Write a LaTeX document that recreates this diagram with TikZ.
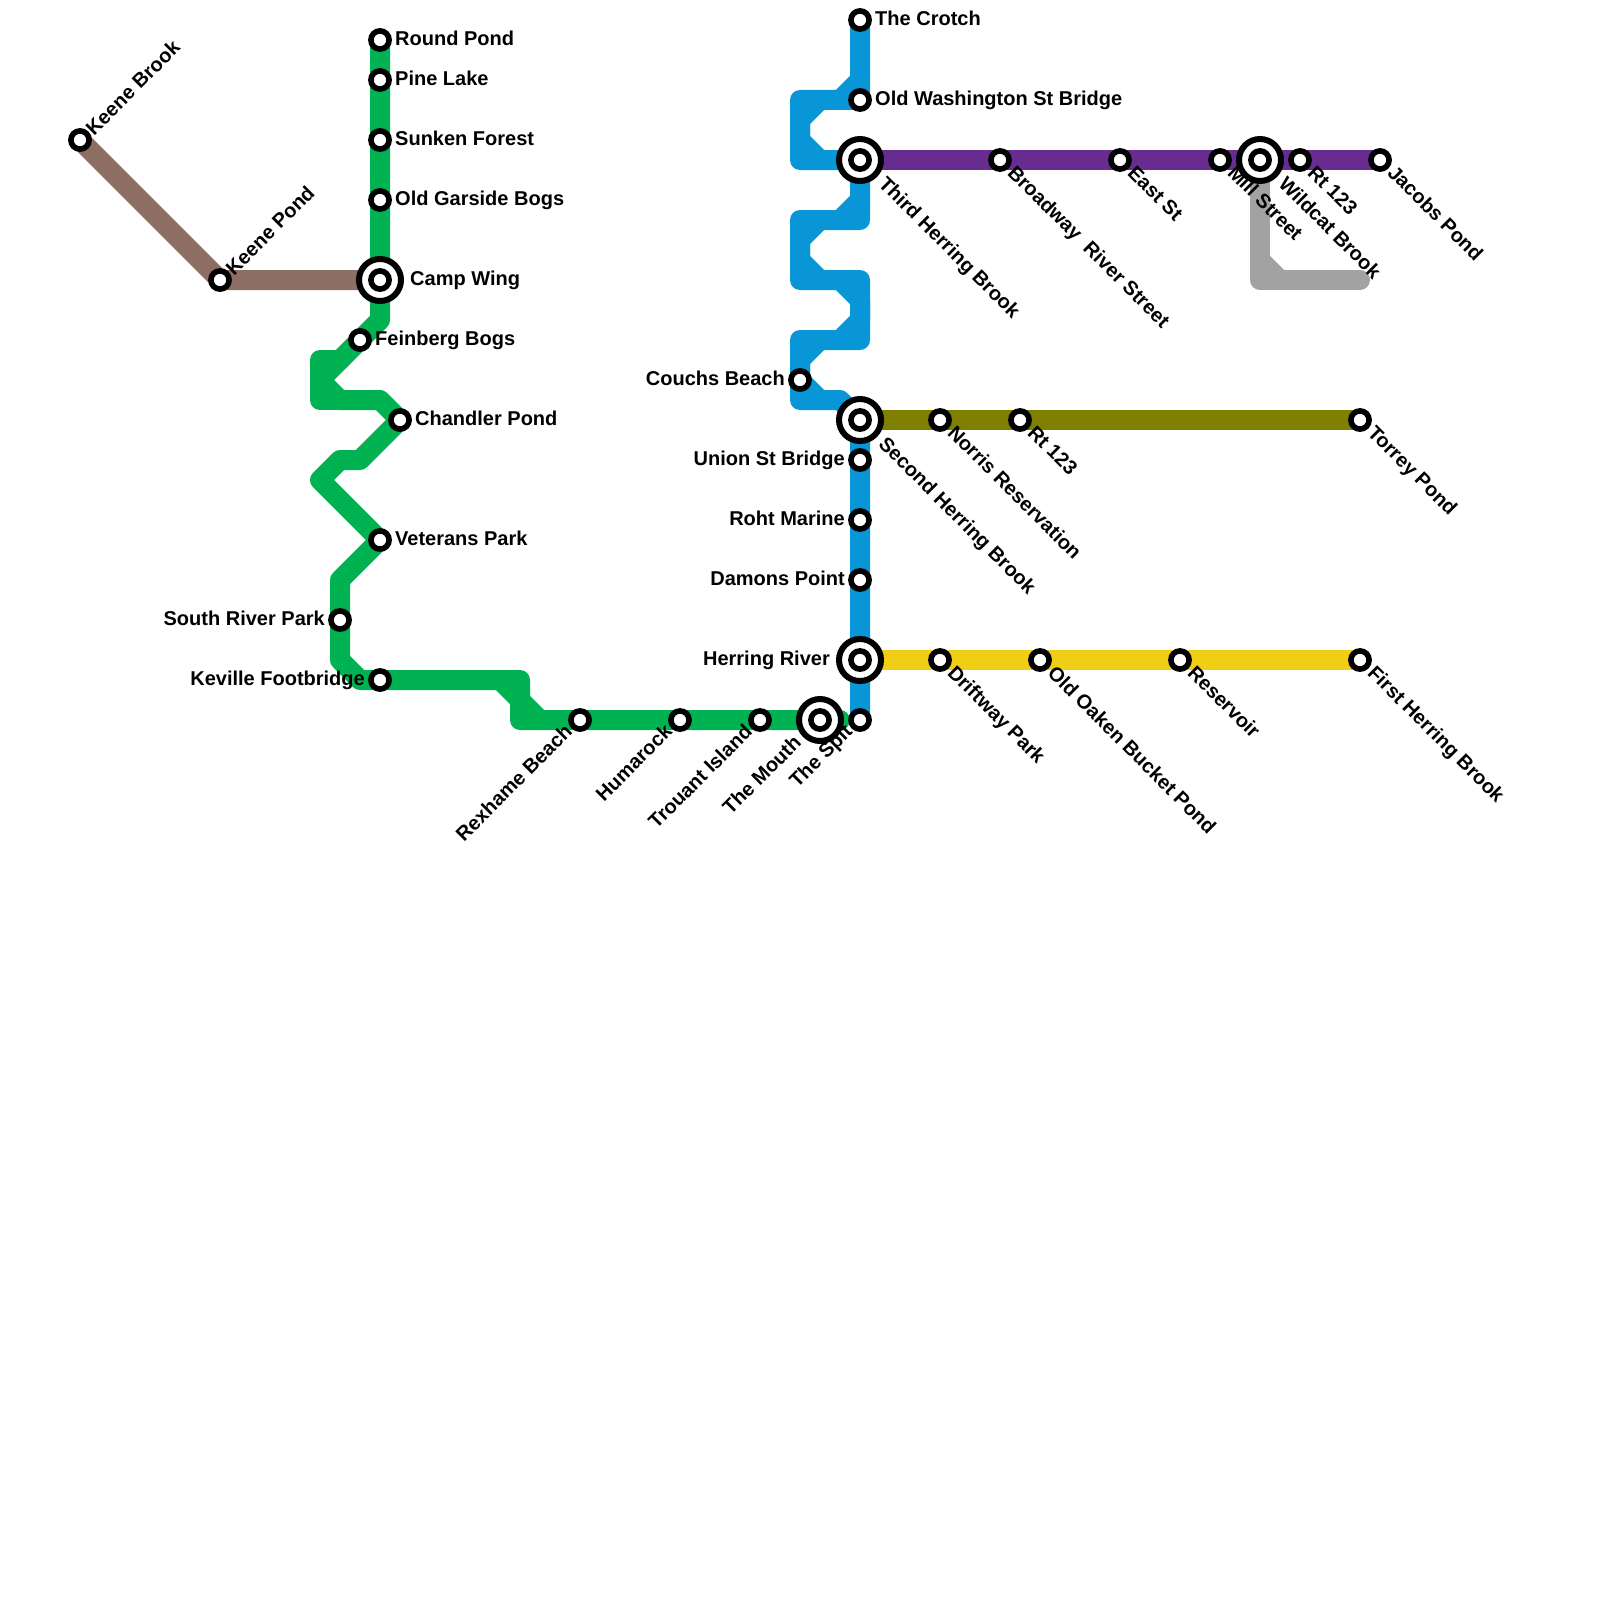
\documentclass[tikz,border=0pt]{standalone}
\usepackage{fontspec}
\setmainfont{Liberation Sans}
\usetikzlibrary{backgrounds}
\definecolor{cblue}{HTML}{0896D7}
\definecolor{cgreen}{HTML}{00B251}
\definecolor{cbrown}{HTML}{8D6E63}
\definecolor{cpurple}{HTML}{662C90}
\definecolor{colive}{HTML}{808000}
\definecolor{cyellow}{HTML}{F0CE15}
\definecolor{cgray}{HTML}{A2A2A2}
\tikzset{
 x=1pt,y=-1pt,
 route/.style={line width=20pt,line cap=round,line join=round},
 stn/.style={circle,draw=black,fill=white,line width=5.6pt,minimum size=18.2pt,inner sep=0pt,outer sep=0pt},
 hub/.style={circle,draw=black,fill=white,line width=6pt,minimum size=42pt,inner sep=0pt,outer sep=0pt},
 lab/.style={font=\bfseries\fontsize{20}{20}\selectfont,inner sep=0pt,text height=14pt,text depth=0pt,text=black},
 lr/.style={lab,anchor=west},
 ll/.style={lab,anchor=east},
 ldr/.style={lab,anchor=west,rotate=-45},
 lur/.style={lab,anchor=west,rotate=45},
 ldl/.style={lab,anchor=east,rotate=45},
}
\newcommand{\St}[3]{\node[stn] (#1) at (#2,#3) {};}
\newcommand{\Hub}[3]{\node[hub] (#1o) at (#2,#3) {};\node[stn] (#1) at (#2,#3) {};}
\begin{document}
\begin{tikzpicture}
\useasboundingbox (0,0) rectangle (1600,1600);
% stations
\St{keenebrook}{80}{140}
\St{keenepond}{220}{280}
\St{roundpond}{380}{40}
\St{pinelake}{380}{80}
\St{sunken}{380}{140}
\St{garside}{380}{200}
\Hub{campwing}{380}{280}
\St{feinberg}{360}{340}
\St{chandler}{400}{420}
\St{veterans}{380}{540}
\St{southriver}{340}{620}
\St{keville}{380}{680}
\St{rexhame}{580}{720}
\St{humarock}{680}{720}
\St{trouant}{760}{720}
\Hub{mouth}{820}{720}
\St{spit}{860}{720}
\St{crotch}{860}{20}
\St{oldwash}{860}{100}
\Hub{third}{860}{160}
\St{couchs}{800}{380}
\Hub{second}{860}{420}
\St{union}{860}{460}
\St{roht}{860}{520}
\St{damons}{860}{580}
\Hub{herring}{860}{660}
\St{broadway}{1000}{160}
\St{eastst}{1120}{160}
\St{mill}{1220}{160}
\Hub{wildcat}{1260}{160}
\St{rtpurple}{1300}{160}
\St{jacobs}{1380}{160}
\St{norris}{940}{420}
\St{rtolive}{1020}{420}
\St{torrey}{1360}{420}
\St{driftway}{940}{660}
\St{oldoaken}{1040}{660}
\St{reservoir}{1180}{660}
\St{firstherring}{1360}{660}
% routes
\begin{pgfonlayer}{background}
\fill[white] (0,0) rectangle (1600,1600);
\draw[route,cbrown] (keenebrook.center) -- (keenepond.center) -- (campwing.center);
\draw[route,cgreen] (roundpond.center) -- (380,320) -- (320,380) -- (340,400) -- (380,400) -- (chandler.center) -- (360,460) -- (340,460) -- (320,480) -- (veterans.center) -- (340,580) -- (340,660) -- (360,680) -- (520,680) -- (520,720) -- (mouth.center) -- (840,720);
\draw[route,cgreen] (340,360) -- (320,360) -- (320,400) -- (340,400);
\draw[route,cgreen] (500,680) -- (520,700) -- (540,720);
\draw[route,cgray] (wildcat.center) -- (1260,280) -- (1360,280);
\draw[route,cgray] (1260,260) -- (1280,280);
\draw[route,cpurple] (third.center) -- (jacobs.center);
\draw[route,colive] (second.center) -- (torrey.center);
\draw[route,cyellow] (herring.center) -- (firstherring.center);
\draw[route,cblue] (crotch.center) -- (oldwash.center) -- (800,100) -- (800,160) -- (third.center) -- (860,220) -- (800,220) -- (800,280) -- (860,280) -- (860,340) -- (800,340) -- (800,400) -- (840,400) -- (second.center) -- (spit.center);
\draw[route,cblue] (860,80) -- (840,100);
\draw[route,cblue] (820,100) -- (800,120) -- (800,140) -- (820,160);
\draw[route,cblue] (860,200) -- (840,220);
\draw[route,cblue] (820,220) -- (800,240) -- (800,260) -- (820,280);
\draw[route,cblue] (840,280) -- (860,300) -- (860,320) -- (840,340);
\draw[route,cblue] (820,340) -- (800,360) -- (couchs.center) -- (820,400);
\end{pgfonlayer}
% labels
\node[lur] (lkeenebrook) at ([shift={(9pt,8.5pt)}]keenebrook.center) {Keene Brook};
\node[lur] (lkeenepond) at ([shift={(9pt,8.5pt)}]keenepond.center) {Keene Pond};
\node[lr] (lroundpond) at ([shift={(15pt,1.5pt)}]roundpond.center) {Round Pond};
\node[lr] (lpinelake) at ([shift={(15pt,1.5pt)}]pinelake.center) {Pine Lake};
\node[lr] (lsunken) at ([shift={(15pt,1.5pt)}]sunken.center) {Sunken Forest};
\node[lr] (lgarside) at ([shift={(15pt,1.5pt)}]garside.center) {Old Garside Bogs};
\node[lr] (lcampwing) at ([shift={(30pt,1.5pt)}]campwing.center) {Camp Wing};
\node[lr] (lfeinberg) at ([shift={(15pt,1.5pt)}]feinberg.center) {Feinberg Bogs};
\node[lr] (lchandler) at ([shift={(15pt,1.5pt)}]chandler.center) {Chandler Pond};
\node[lr] (lveterans) at ([shift={(15pt,1.5pt)}]veterans.center) {Veterans Park};
\node[ll] (lsouthriver) at ([shift={(-15pt,2pt)}]southriver.center) {South River Park};
\node[ll] (lkeville) at ([shift={(-15pt,2pt)}]keville.center) {Keville Footbridge};
\node[ldl] (lrexhame) at ([shift={(-11.5pt,-8pt)}]rexhame.center) {Rexhame Beach};
\node[ldl] (lhumarock) at ([shift={(-11.5pt,-8pt)}]humarock.center) {Humarock};
\node[ldl] (ltrouant) at ([shift={(-11.5pt,-8pt)}]trouant.center) {Trouant Island};
\node[ldl] (lmouth) at ([shift={(-22.5pt,-19pt)}]mouth.center) {The Mouth};
\node[ldl] (lspit) at ([shift={(-11.5pt,-8pt)}]spit.center) {The Spit};
\node[lr] (lcrotch) at ([shift={(15pt,1.5pt)}]crotch.center) {The Crotch};
\node[lr] (loldwash) at ([shift={(15pt,1.5pt)}]oldwash.center) {Old Washington St Bridge};
\node[ldr] (lthird) at ([shift={(22.5pt,-20pt)}]third.center) {Third Herring Brook};
\node[ll] (lcouchs) at ([shift={(-15pt,2pt)}]couchs.center) {Couchs Beach};
\node[ldr] (lsecond) at ([shift={(22.5pt,-20pt)}]second.center) {Second Herring Brook};
\node[ll] (lunion) at ([shift={(-15pt,2pt)}]union.center) {Union St Bridge};
\node[ll] (lroht) at ([shift={(-15pt,2pt)}]roht.center) {Roht Marine};
\node[ll] (ldamons) at ([shift={(-15pt,2pt)}]damons.center) {Damons Point};
\node[ll] (lherring) at ([shift={(-30pt,2pt)}]herring.center) {Herring River};
\node[ldr] (lbroadway) at ([shift={(11.5pt,-9pt)}]broadway.center) {Broadway\ \ River Street};
\node[ldr] (leastst) at ([shift={(11.5pt,-9pt)}]eastst.center) {East St};
\node[ldr] (lmill) at ([shift={(11.5pt,-9pt)}]mill.center) {Mill Street};
\node[ldr] (lwildcat) at ([shift={(22.5pt,-20pt)}]wildcat.center) {Wildcat Brook};
\node[ldr] (lrtpurple) at ([shift={(11.5pt,-9pt)}]rtpurple.center) {Rt 123};
\node[ldr] (ljacobs) at ([shift={(11.5pt,-9pt)}]jacobs.center) {Jacobs Pond};
\node[ldr] (lnorris) at ([shift={(11.5pt,-9pt)}]norris.center) {Norris Reservation};
\node[ldr] (lrtolive) at ([shift={(11.5pt,-9pt)}]rtolive.center) {Rt 123};
\node[ldr] (ltorrey) at ([shift={(11.5pt,-9pt)}]torrey.center) {Torrey Pond};
\node[ldr] (ldriftway) at ([shift={(11.5pt,-9pt)}]driftway.center) {Driftway Park};
\node[ldr] (loldoaken) at ([shift={(11.5pt,-9pt)}]oldoaken.center) {Old Oaken Bucket Pond};
\node[ldr] (lreservoir) at ([shift={(11.5pt,-9pt)}]reservoir.center) {Reservoir};
\node[ldr] (lfirstherring) at ([shift={(11.5pt,-9pt)}]firstherring.center) {First Herring Brook};
\end{tikzpicture}
\end{document}
